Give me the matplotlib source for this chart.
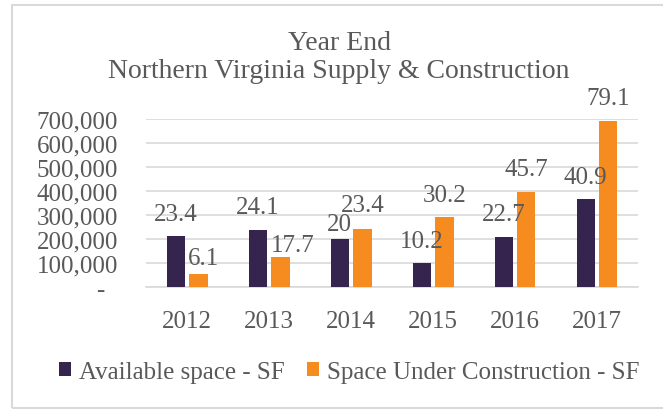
import numpy as np
import matplotlib
matplotlib.use("Agg")
import matplotlib.pyplot as plt
from matplotlib.ticker import FuncFormatter
from matplotlib.patches import Rectangle

years = ["2012", "2013", "2014", "2015", "2016", "2017"]
available_sf = [212000, 238000, 201000, 100000, 210000, 366000]
construction_sf = [57000, 126000, 242000, 291000, 397000, 691000]
available_labels = ["23.4", "24.1", "20", "10.2", "22.7", "40.9"]
construction_labels = ["6.1", "17.7", "23.4", "30.2", "45.7", "79.1"]

# label offsets (points) from the bar top; a few labels were moved by hand in the original
available_nudge = [(0, 8.4), (0, 8.4), (0, 3.2), (0, 8.4), (0, 8.4), (0, 8.4)]
construction_nudge = [(3.5, 3.0), (8.5, 0.5), (0, 9.3), (0, 8.4), (0, 8.4), (0, 8.4)]

DARK = "#35244e"
ORANGE = "#f68b1f"
TEXT = "#595959"
GRID = "#d9d9d9"

plt.rcParams["font.family"] = ["Liberation Serif", "DejaVu Serif"]

W, H = 663, 410
fig = plt.figure(figsize=(W / 100, H / 100), dpi=100)
# chart border
fig.patches.append(Rectangle((11.5 / W, 1.5 / H), 1.0, 402.5 / H, transform=fig.transFigure,
                             fill=False, edgecolor=GRID, linewidth=1.5))

ax = fig.add_axes([146 / W, 1 - 288.3 / H, 492 / W, (288.3 - 120) / H])

x = np.arange(len(years))
w = 0.22
off = 0.14
b1 = ax.bar(x - off, available_sf, w, color=DARK, label="Available space - SF", zorder=3)
b2 = ax.bar(x + off, construction_sf, w, color=ORANGE, label="Space Under Construction - SF", zorder=3)

for bars, labs, nudges in ((b1, available_labels, available_nudge),
                           (b2, construction_labels, construction_nudge)):
    for rect, lab, (dx, dy) in zip(bars, labs, nudges):
        ax.annotate(lab, (rect.get_x() + rect.get_width() / 2, rect.get_height()),
                    xytext=(dx, dy), textcoords="offset points", ha="center", va="bottom",
                    fontsize=18, color=TEXT, annotation_clip=False)

ax.set_xlim(-0.5, len(years) - 0.5)
ax.set_ylim(0, 700000)
ax.set_yticks(np.arange(0, 700001, 100000))
ax.yaxis.set_major_formatter(FuncFormatter(lambda v, p: "-  " if v == 0 else f"{int(v):,}"))
ax.set_xticks(x)
ax.set_xticklabels(years)
ax.tick_params(axis="y", length=0, pad=20, labelsize=18, labelcolor=TEXT)
ax.tick_params(axis="x", length=0, pad=16, labelsize=18, labelcolor=TEXT)
ax.grid(axis="y", color=GRID, linewidth=1.2, zorder=0)
for s in ["top", "right", "left"]:
    ax.spines[s].set_visible(False)
ax.spines["bottom"].set_color(GRID)
ax.spines["bottom"].set_linewidth(1.2)

fig.text(340 / W, 1 - 50 / H, "Year End", ha="center", va="baseline", fontsize=20, color=TEXT)
fig.text(339 / W, 1 - 78.3 / H, "Northern Virginia Supply & Construction",
         ha="center", va="baseline", fontsize=20, color=TEXT)

fig.legend(handles=[b1, b2], loc="center", bbox_to_anchor=(349 / W, 1 - 373 / H), ncol=2,
           frameon=False, fontsize=18, labelcolor=TEXT, handlelength=0.5, handleheight=0.5,
           handletextpad=0.3, columnspacing=0.9, borderpad=0)

fig.savefig("out.png", dpi=100)
